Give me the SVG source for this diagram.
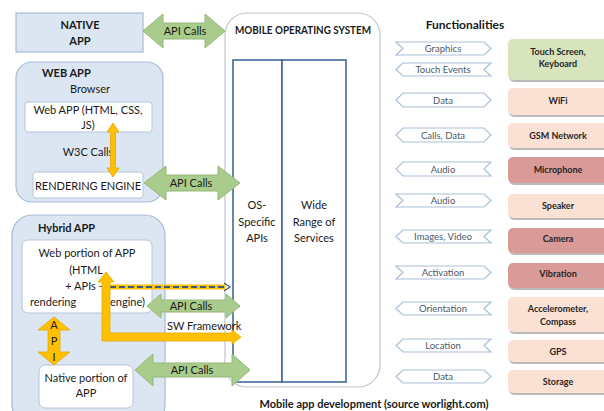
<svg xmlns="http://www.w3.org/2000/svg" width="604" height="411" viewBox="0 0 604 411">
<style>
text{font-family:Lato,"Liberation Sans",sans-serif;fill:#1a1a1a;}
.t{font-size:11px;text-anchor:middle;}
.b{font-weight:bold;}
.blue{fill:#dce6f2;stroke:#a6bcd4;stroke-width:1.2;}
.white{fill:#ffffff;stroke:#b4c6da;stroke-width:1;}
.green{fill:#a9cc8c;stroke:#94b878;stroke-width:1;}
.orange{fill:#ffc000;stroke:#e6a800;stroke-width:0.8;}
.chev{fill:#ffffff;stroke:#a9c0d8;stroke-width:1.2;}
.ct{font-size:9.5px;text-anchor:middle;fill:#4a5a6c;}
.ht{font-size:9px;font-weight:bold;text-anchor:middle;fill:#262626;}
.shadow{fill:#8c8c8c;opacity:0.6;}
.pg{fill:#d8e4bd;}
.ps{fill:#fbe0d4;}
.pr{fill:#d99a98;}
.inner{fill:#ffffff;stroke:#3e6a96;stroke-width:1.6;}
</style>

<g id="native-app">
<rect x="16" y="13" width="127" height="39" class="blue"/>
<text x="80" y="29" class="t b">NATIVE</text>
<text x="80" y="45" class="t b">APP</text>
</g>

<g id="mobile-os">
<rect x="225" y="13" width="155" height="374" rx="22" fill="#ffffff" stroke="#bcc6d0" stroke-width="1.2"/>
<text x="303" y="34" class="t b" textLength="136" lengthAdjust="spacingAndGlyphs">MOBILE OPERATING SYSTEM</text>
<rect x="233" y="60" width="49" height="322" class="inner"/>
<rect x="282" y="60" width="64" height="322" class="inner"/>
<text x="257" y="209" class="t">OS-</text>
<text x="257" y="226" class="t">Specific</text>
<text x="257" y="242" class="t">APIs</text>
<text x="314" y="209" class="t">Wide</text>
<text x="314" y="226" class="t">Range of</text>
<text x="314" y="242" class="t">Services</text>
</g>

<g id="web-app">
<rect x="16" y="62" width="147" height="140" rx="16" class="blue"/>
<text x="42" y="77" class="b" font-size="11">WEB APP</text>
<text x="90" y="93" class="t">Browser</text>
<rect x="25" y="102" width="127" height="30" rx="3" class="white"/>
<text x="88" y="114" class="t">Web APP (HTML, CSS,</text>
<text x="88" y="129" class="t">JS)</text>
<text x="88" y="156" class="t">W3C Calls</text>
<rect x="33" y="172" width="110" height="26" rx="3" class="white"/>
<text x="88" y="190" class="t">RENDERING ENGINE</text>
</g>

<g id="hybrid-app">
<rect x="12" y="215" width="153" height="210" rx="20" class="blue"/>
<text x="38" y="232" class="b" font-size="11">Hybrid APP</text>
<rect x="22" y="240" width="130" height="73" rx="6" class="white"/>
<text x="87" y="257" class="t">Web portion of APP</text>
<text x="86" y="274" class="t">(HTML</text>
<text x="84" y="290" class="t">+ APIs -</text>
<text x="30" y="306" font-size="11">rendering</text>
<text x="110" y="306" font-size="11">engine)</text>
<rect x="39" y="365" width="94" height="43" rx="6" class="white"/>
<text x="86" y="382" class="t">Native portion of</text>
<text x="86" y="397" class="t">APP</text>
</g>

<g id="connectors">
<path class="green" d="M143 31 L163 14 L163 23 L205 23 L205 14 L225 31 L205 48 L205 39 L163 39 L163 48 Z"/>
<text x="185" y="35" class="t">API Calls</text>
<path class="green" d="M144 183 L166 166 L166 175 L218 175 L218 166 L240 183 L218 200 L218 191 L166 191 L166 200 Z"/>
<text x="191" y="187" class="t">API Calls</text>
<path class="orange" d="M113 123 L119 132 L115.5 132 L115.5 168 L119 168 L113 177 L107 168 L110.5 168 L110.5 132 L107 132 Z"/>
<line x1="110" y1="287" x2="225" y2="287" stroke="#ffc000" stroke-width="5"/>
<line x1="110" y1="287" x2="225" y2="287" stroke="#3a5a80" stroke-width="2.2" stroke-dasharray="6 3"/>
<path d="M224 283 L230 287 L224 291" fill="none" stroke="#3a5a80" stroke-width="1.2"/>
<path class="green" d="M147 306 L161 294 L161 300 L226 300 L226 294 L240 306 L226 318 L226 312 L161 312 L161 318 Z"/>
<text x="191" y="310" class="t">API Calls</text>
<text x="167" y="330" font-size="11">SW Framework</text>
<path class="orange" d="M106 272 L114 282 L110 282 L110 333 L232 333 L232 330 L241 337 L232 344 L232 341 L102 341 L102 282 L98 282 Z"/>
<path class="orange" d="M54 317 L70 330 L60 330 L60 352 L70 352 L54 365 L38 352 L48 352 L48 330 L38 330 Z"/>
<text x="54" y="329" class="t" fill="#4a3a20">A</text>
<text x="54" y="345" class="t" fill="#4a3a20">P</text>
<text x="54" y="361" class="t" fill="#4a3a20">I</text>
<path class="green" d="M135 370 L153 354 L153 363 L232 363 L232 354 L250 370 L232 386 L232 377 L153 377 L153 386 Z"/>
<text x="192" y="374" class="t">API Calls</text>
</g>

<g id="functionalities">
<text x="465" y="29" class="b" font-size="12" text-anchor="middle">Functionalities</text>
<path class="chev" d="M396 42 L484 42 L491 48.5 L484 55 L396 55 L403 48.5 Z"/>
<text x="443" y="52" class="ct">Graphics</text>
<path class="chev" d="M396 69.5 L403 63 L491 63 L484 69.5 L491 76 L403 76 Z"/>
<text x="443" y="73" class="ct">Touch Events</text>
<path class="chev" d="M396 100 L403 93 L484 93 L491 100 L484 107 L403 107 Z"/>
<text x="443" y="103.5" class="ct">Data</text>
<path class="chev" d="M396 135 L403 128 L484 128 L491 135 L484 142 L403 142 Z"/>
<text x="443" y="138.5" class="ct">Calls, Data</text>
<path class="chev" d="M396 169 L403 162 L491 162 L484 169 L491 176 L403 176 Z"/>
<text x="443" y="172.5" class="ct">Audio</text>
<path class="chev" d="M396 194 L484 194 L491 200.5 L484 207 L396 207 L403 200.5 Z"/>
<text x="443" y="204" class="ct">Audio</text>
<path class="chev" d="M396 236.5 L403 230 L491 230 L484 236.5 L491 243 L403 243 Z"/>
<text x="443" y="240" class="ct">Images, Video</text>
<path class="chev" d="M396 266 L484 266 L491 272.5 L484 279 L396 279 L403 272.5 Z"/>
<text x="443" y="276" class="ct">Activation</text>
<path class="chev" d="M396 308.5 L403 302 L491 302 L484 308.5 L491 315 L403 315 Z"/>
<text x="443" y="312" class="ct">Orientation</text>
<path class="chev" d="M396 345.5 L403 339 L491 339 L484 345.5 L491 352 L403 352 Z"/>
<text x="443" y="349" class="ct">Location</text>
<path class="chev" d="M396 376.5 L403 370 L484 370 L491 376.5 L484 383 L403 383 Z"/>
<text x="443" y="380" class="ct">Data</text>
</g>

<g id="hardware">
<rect x="509" y="41" width="104" height="41" rx="5" class="shadow"/>
<rect x="508" y="39" width="104" height="41" rx="5" class="pg"/>
<text x="558" y="55" class="ht">Touch Screen,</text>
<text x="558" y="67" class="ht">Keyboard</text>
<rect x="509" y="90" width="104" height="27" rx="5" class="shadow"/>
<rect x="508" y="88" width="104" height="27" rx="5" class="ps"/>
<text x="558" y="104" class="ht">WiFi</text>
<rect x="509" y="125" width="104" height="25" rx="5" class="shadow"/>
<rect x="508" y="123" width="104" height="25" rx="5" class="ps"/>
<text x="558" y="138.5" class="ht">GSM Network</text>
<rect x="509" y="159" width="104" height="26" rx="5" class="shadow"/>
<rect x="508" y="157" width="104" height="26" rx="5" class="pr"/>
<text x="558" y="172.5" class="ht">Microphone</text>
<rect x="509" y="196" width="104" height="24" rx="5" class="shadow"/>
<rect x="508" y="194" width="104" height="24" rx="5" class="ps"/>
<text x="558" y="208.5" class="ht">Speaker</text>
<rect x="509" y="230" width="104" height="25" rx="5" class="shadow"/>
<rect x="508" y="228" width="104" height="25" rx="5" class="pr"/>
<text x="558" y="241.5" class="ht">Camera</text>
<rect x="509" y="265" width="104" height="25" rx="5" class="shadow"/>
<rect x="508" y="263" width="104" height="25" rx="5" class="pr"/>
<text x="558" y="276.5" class="ht">Vibration</text>
<rect x="509" y="299" width="104" height="35" rx="5" class="shadow"/>
<rect x="508" y="297" width="104" height="35" rx="5" class="ps"/>
<text x="558" y="312" class="ht">Accelerometer,</text>
<text x="558" y="325" class="ht">Compass</text>
<rect x="509" y="342" width="104" height="22" rx="5" class="shadow"/>
<rect x="508" y="340" width="104" height="22" rx="5" class="ps"/>
<text x="558" y="354.5" class="ht">GPS</text>
<rect x="509" y="372" width="104" height="23" rx="5" class="shadow"/>
<rect x="508" y="370" width="104" height="23" rx="5" class="ps"/>
<text x="558" y="385" class="ht">Storage</text>
</g>

<text x="374" y="408" class="t b">Mobile app development (source worlight.com)</text>
</svg>
